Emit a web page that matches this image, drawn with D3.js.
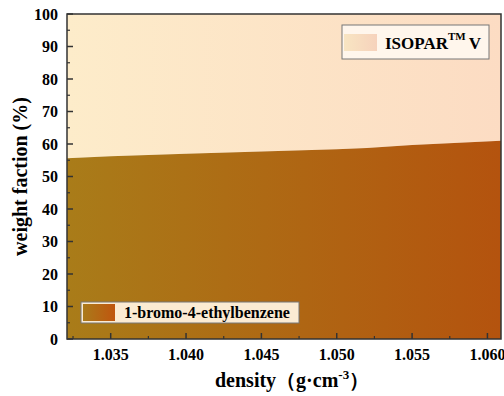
<!DOCTYPE html>
<html>
<head>
<meta charset="utf-8">
<script src="https://d3js.org/d3.v7.min.js"></script>
</head>
<body style="margin:0">
<script>
  // boundary between the two components
  const density = [1.0321, 1.035, 1.040, 1.045, 1.050, 1.052, 1.055, 1.0609];
  const weight = [55.6, 56.2, 57.0, 57.7, 58.4, 58.8, 59.7, 61.0];
  const xTicks = [1.035, 1.040, 1.045, 1.050, 1.055, 1.060];
  const yTicks = [0, 10, 20, 30, 40, 50, 60, 70, 80, 90, 100];

  const width = 504, height = 396;
  const margin = {top: 14, right: 3, bottom: 57, left: 67};

  const svg = d3.select("body").append("svg")
    .attr("width", width)
    .attr("height", height);

  function serif(sel, size) {
    return sel.style("font-family", "Liberation Serif")
      .style("font-weight", "bold")
      .style("font-size", size + "px");
  }

  const x = d3.scaleLinear().domain([1.0321, 1.0609]).range([margin.left, width - margin.right]);
  const y = d3.scaleLinear().domain([0, 100]).range([height - margin.bottom, margin.top]);

  const defs = svg.append("defs");
  function grad(id, c1, c2, units) {
    const g = defs.append("linearGradient").attr("id", id)
      .attr("x1", "0%").attr("x2", "100%").attr("y1", "0%").attr("y2", "0%");
    if (units) {
      g.attr("gradientUnits", "userSpaceOnUse")
        .attr("x1", x.range()[0]).attr("x2", x.range()[1]);
    }
    g.append("stop").attr("offset", "0%").attr("stop-color", c1);
    g.append("stop").attr("offset", "100%").attr("stop-color", c2);
  }
  grad("lowGrad", "#a97c19", "#b4530e", true);
  grad("highGrad", "#fdecca", "#fcdcc3", true);
  grad("lowSwatch", "#aa7a1a", "#c0560f", false);
  grad("highSwatch", "#f8e5c2", "#f6d2bc", false);

  const pts = density.map((d, i) => [d, weight[i]]);

  // upper region (ISOPAR V)
  svg.append("path")
    .datum(pts)
    .attr("fill", "url(#highGrad)")
    .attr("d", d3.area().x(d => x(d[0])).y0(y(100)).y1(d => y(d[1])));

  // lower region (1-bromo-4-ethylbenzene)
  svg.append("path")
    .datum(pts)
    .attr("fill", "url(#lowGrad)")
    .attr("d", d3.area().x(d => x(d[0])).y0(y(0)).y1(d => y(d[1])));

  // axes, ticks inward
  const xMinor = d3.range(1.0325, 1.061, 0.0025).filter(v => !xTicks.some(t => Math.abs(t - v) < 1e-6));
  const yMinor = d3.range(5, 100, 10);

  const xAxis = svg.append("g").attr("transform", "translate(0," + y(0) + ")");
  xAxis.selectAll(".maj").data(xTicks).enter().append("line")
    .attr("x1", d => x(d)).attr("x2", d => x(d)).attr("y1", 0).attr("y2", -6)
    .attr("stroke", "#333").attr("stroke-width", 1.5);
  xAxis.selectAll(".min").data(xMinor).enter().append("line")
    .attr("x1", d => x(d)).attr("x2", d => x(d)).attr("y1", 0).attr("y2", -3)
    .attr("stroke", "#333").attr("stroke-width", 1.2);
  serif(xAxis.selectAll("text").data(xTicks).enter().append("text")
    .attr("x", d => x(d)).attr("y", 21)
    .attr("text-anchor", "middle"), 16)
    .text(d => d3.format(".3f")(d));

  const yAxis = svg.append("g").attr("transform", "translate(" + x.range()[0] + ",0)");
  yAxis.selectAll(".maj").data(yTicks).enter().append("line")
    .attr("y1", d => y(d)).attr("y2", d => y(d)).attr("x1", 0).attr("x2", 6)
    .attr("stroke", "#333").attr("stroke-width", 1.5);
  yAxis.selectAll(".min").data(yMinor).enter().append("line")
    .attr("y1", d => y(d)).attr("y2", d => y(d)).attr("x1", 0).attr("x2", 3)
    .attr("stroke", "#333").attr("stroke-width", 1.2);
  serif(yAxis.selectAll("text").data(yTicks).enter().append("text")
    .attr("x", -9).attr("y", d => y(d)).attr("dy", "0.35em")
    .attr("text-anchor", "end"), 16)
    .text(d => d);

  // frame
  svg.append("rect")
    .attr("x", x.range()[0]).attr("y", y(100))
    .attr("width", x.range()[1] - x.range()[0])
    .attr("height", y(0) - y(100))
    .attr("fill", "none")
    .attr("stroke", "#333")
    .attr("stroke-width", 1.5);

  // axis titles
  serif(svg.append("text")
    .attr("transform", "translate(27," + (y(50)) + ") rotate(-90)")
    .attr("text-anchor", "middle"), 20)
    .text("weight faction (%)");

  const xt = serif(svg.append("text")
    .attr("x", 215).attr("y", 387)
    .attr("text-anchor", "start"), 20);
  xt.append("tspan").text("density（g·cm");
  xt.append("tspan").attr("dy", -8).style("font-size", "13px").text("-3");
  xt.append("tspan").attr("dy", 8).text("）");

  // legends
  const lg1 = svg.append("g");
  lg1.append("rect").attr("x", 342).attr("y", 25).attr("width", 147).attr("height", 34)
    .attr("fill", "#fff6ec").attr("stroke", "#777").attr("stroke-width", 1);
  lg1.append("rect").attr("x", 344).attr("y", 34).attr("width", 33).attr("height", 17)
    .attr("fill", "url(#highSwatch)");
  const t1 = serif(lg1.append("text").attr("x", 385).attr("y", 49), 17);
  t1.append("tspan").text("ISOPAR");
  t1.append("tspan").attr("dy", -9).style("font-size", "11px").text("TM");
  t1.append("tspan").attr("dy", 9).attr("dx", 3).text("V");

  const lg2 = svg.append("g");
  lg2.append("rect").attr("x", 81).attr("y", 302).attr("width", 218).attr("height", 21)
    .attr("fill", "#fbebd3").attr("stroke", "#777").attr("stroke-width", 1);
  lg2.append("rect").attr("x", 83).attr("y", 304).attr("width", 32).attr("height", 17)
    .attr("fill", "url(#lowSwatch)");
  serif(lg2.append("text").attr("x", 124).attr("y", 318), 16)
    .text("1-bromo-4-ethylbenzene");
</script>
</body>
</html>
